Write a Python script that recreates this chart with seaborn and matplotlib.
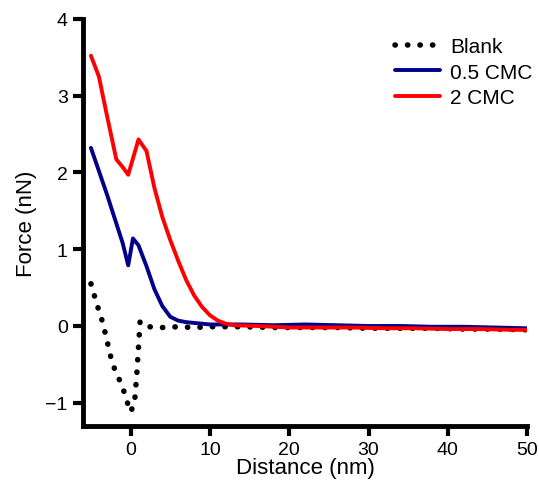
import matplotlib
matplotlib.use("Agg")
import matplotlib.pyplot as plt
import seaborn as sns
import pandas as pd

# Blank (no surfactant)
blank_x = [-5, -4.3, -3.5, -2.3, -1.0, -0.4, 0.0, 0.5, 0.8, 1.2, 2.3, 4, 6, 8, 10, 14, 18, 22, 26, 30, 34, 38, 42, 46, 50]
blank_y = [0.55, 0.3, 0.04, -0.49, -0.8, -1.0, -1.12, -1.0, -0.6, 0.06, -0.01, -0.02, -0.01, -0.02, -0.01, -0.01, -0.02, -0.02, -0.02, -0.03, -0.03, -0.03, -0.04, -0.04, -0.05]

# 0.5 CMC
cmc05_x = [-5, -4, -3, -2, -1, -0.3, 0.3, 1, 2, 3, 4, 5, 6, 7, 8, 9, 10, 14, 18, 22, 26, 30, 34, 38, 42, 46, 50]
cmc05_y = [2.32, 2.02, 1.72, 1.4, 1.08, 0.79, 1.14, 1.05, 0.78, 0.48, 0.26, 0.12, 0.07, 0.05, 0.04, 0.03, 0.02, 0.02, 0.01, 0.02, 0.01, 0.0, 0.0, -0.01, -0.01, -0.02, -0.03]

# 2 CMC
cmc2_x = [-5, -4, -3, -1.8, -1, -0.3, 1, 2, 3, 4, 5, 6, 7, 8, 9, 10, 11, 12, 13, 16, 20, 24, 28, 32, 36, 40, 44, 48, 50]
cmc2_y = [3.52, 3.25, 2.75, 2.17, 2.07, 1.97, 2.43, 2.28, 1.8, 1.42, 1.12, 0.85, 0.6, 0.4, 0.25, 0.14, 0.07, 0.03, 0.01, 0.0, -0.02, -0.02, -0.02, -0.03, -0.03, -0.04, -0.04, -0.05, -0.05]

sns.set_style("ticks")
plt.rcParams['font.family'] = ['Liberation Sans', 'DejaVu Sans']
plt.rcParams['text.color'] = 'black'
plt.rcParams['axes.labelcolor'] = 'black'

fig = plt.figure(figsize=(5.39, 4.85), dpi=100)
ax = fig.add_axes([0.154, 0.12, 0.824, 0.839])

df_blank = pd.DataFrame({"x": blank_x, "y": blank_y})
df_05 = pd.DataFrame({"x": cmc05_x, "y": cmc05_y})
df_2 = pd.DataFrame({"x": cmc2_x, "y": cmc2_y})

sns.lineplot(data=df_blank, x="x", y="y", ax=ax, color="black", lw=4,
             linestyle=(0, (0.05, 2.2)), dash_capstyle="round", label="Blank", sort=False)
sns.lineplot(data=df_05, x="x", y="y", ax=ax, color="#00008B", lw=2.8, label="0.5 CMC", sort=False)
sns.lineplot(data=df_2, x="x", y="y", ax=ax, color="#FF0000", lw=2.8, label="2 CMC", sort=False)

ax.set_xlim(-6, 50)
ax.set_ylim(-1.3, 4)
ax.set_xticks([0, 10, 20, 30, 40, 50])
ax.set_yticks([-1, 0, 1, 2, 3, 4])
ax.set_xlabel("Distance (nm)", fontsize=16, labelpad=-1)
ax.set_ylabel("Force (nN)", fontsize=16, labelpad=6)
ax.tick_params(axis="both", labelsize=14, length=7, width=3, colors="black", pad=4)
for side in ["left", "bottom"]:
    ax.spines[side].set_linewidth(3.5)
    ax.spines[side].set_color("black")
sns.despine(ax=ax)

leg = ax.legend(loc="upper right", frameon=False, fontsize=15, handlelength=2.2,
                handletextpad=0.45, labelspacing=0.3, borderaxespad=0.0,
                bbox_to_anchor=(1.03, 0.975))

fig.savefig("out.png", dpi=100)
